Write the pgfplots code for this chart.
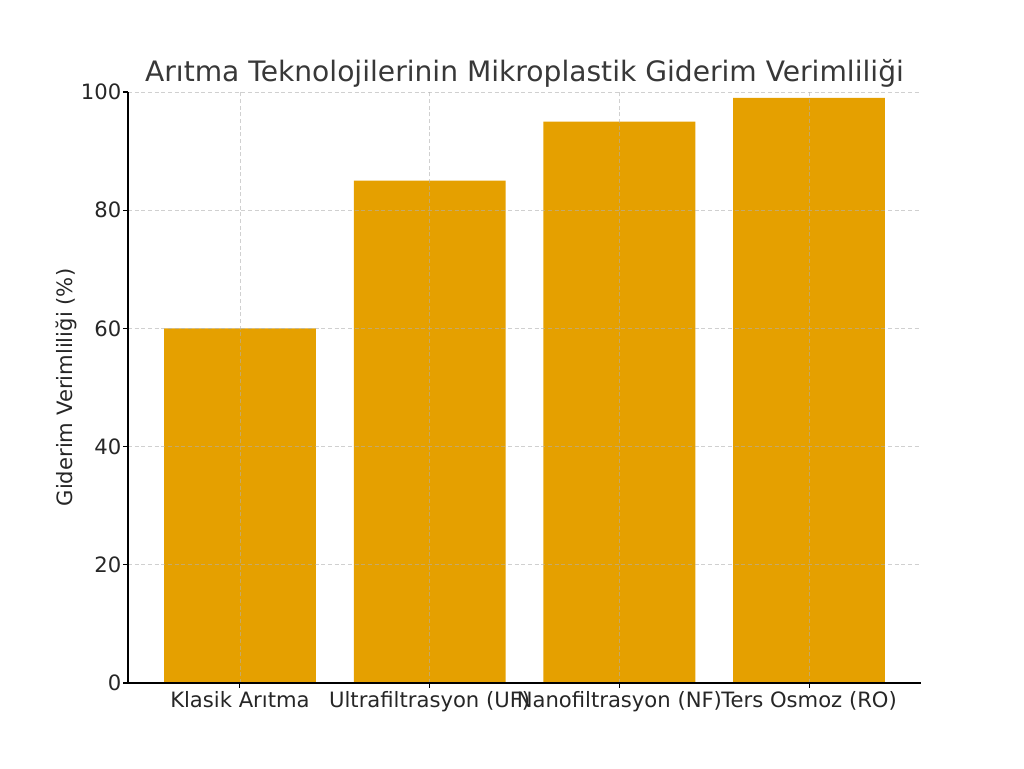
\documentclass[border=0pt]{standalone}
\usepackage{fontspec}
\setmainfont{DejaVu Sans}
\usepackage{pgfplots}
\pgfplotsset{compat=1.18}
\definecolor{barc}{HTML}{E5A000}
\definecolor{txt}{HTML}{262626}
\definecolor{ttl}{HTML}{383838}
\definecolor{gridc}{HTML}{B0B0B0}
\begin{document}
\begin{tikzpicture}[x=0.75pt,y=0.75pt]
\path[use as bounding box] (-128,-85) rectangle (896,683);
\begin{axis}[
  at={(0,0)}, anchor=south west,
  scale only axis, width=594.75pt, height=443.25pt,
  xmin=-0.59, xmax=3.59, ymin=0, ymax=100,
  axis x line=bottom, axis y line=left,
  axis line style={-, black, line width=0.9pt},
  tick align=outside, major tick length=3.5pt,
  tick style={black, line width=0.8pt},
  xtick={0,1,2,3},
  xticklabels={Klasik Arıtma, Ultrafiltrasyon (UF), Nanofiltrasyon (NF), Ters Osmoz (RO)},
  ytick={0,20,40,60,80,100},
  grid=major,
  major grid style={gridc, opacity=0.6, dash pattern=on 3pt off 2pt, line width=0.6pt},
  axis on top,
  ybar, bar width=0.8, bar shift=0pt,
  /pgf/number format/assume math mode=true,
  tick label style={font=\fontsize{15.85}{18}\selectfont, text=txt},
  xticklabel style={yshift=1pt},
  yticklabel style={xshift=2pt},
  ylabel={Giderim Verimliliği (\%)},
  ylabel style={font=\fontsize{15.85}{18}\selectfont, text=txt, yshift=-4pt},
  title={Arıtma Teknolojilerinin Mikroplastik Giderim Verimliliği},
  title style={font=\fontsize{21.1}{24}\selectfont, text=ttl, yshift=-6pt},
]
\addplot[fill=barc, draw=none] coordinates {(0,60) (1,85) (2,95) (3,99)};
\end{axis}
\end{tikzpicture}
\end{document}
